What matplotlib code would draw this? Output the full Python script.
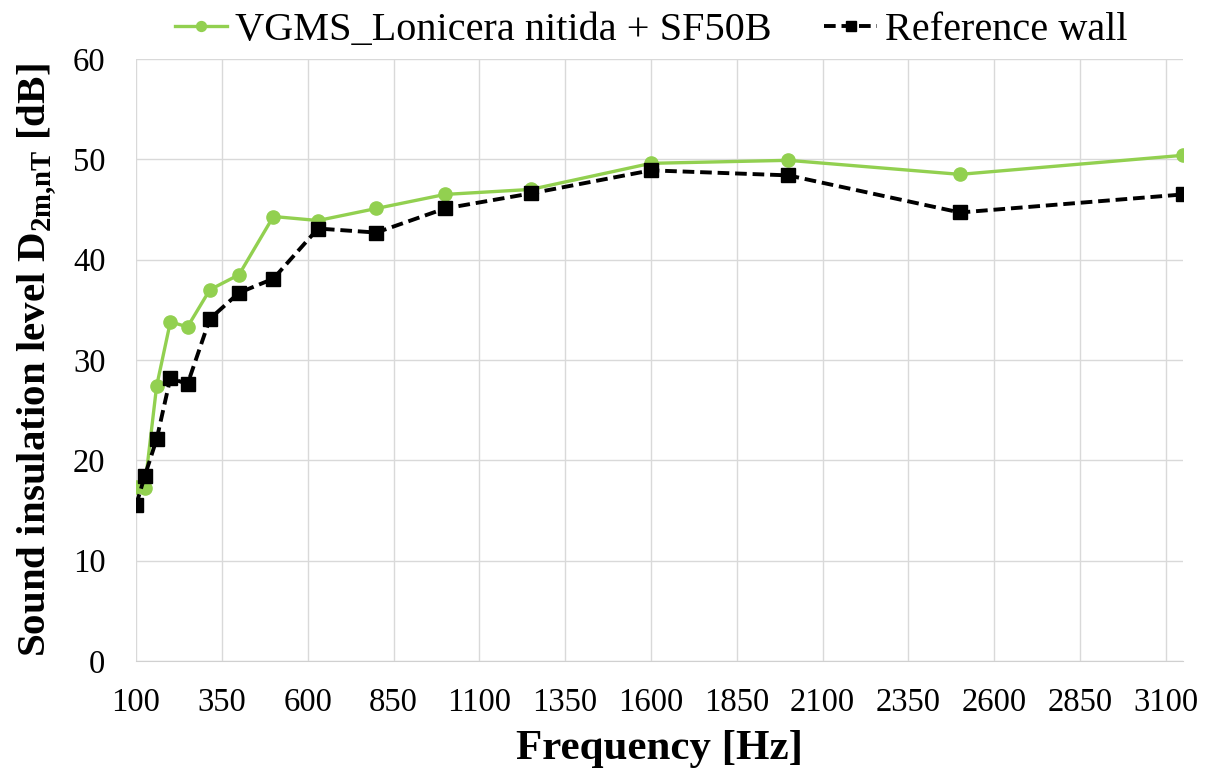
import matplotlib
matplotlib.use("Agg")
import matplotlib.pyplot as plt

plt.rcParams['font.family'] = ['Liberation Serif', 'DejaVu Serif']
plt.rcParams['mathtext.fontset'] = 'custom'
plt.rcParams['mathtext.rm'] = 'Liberation Serif'
plt.rcParams['mathtext.bf'] = 'Liberation Serif:bold'

# 1/3 octave band centre frequencies [Hz]
freqs = [100, 125, 160, 200, 250, 315, 400, 500, 630, 800, 1000, 1250, 1600, 2000, 2500, 3150]
vgms = [17.3, 17.2, 27.4, 33.8, 33.3, 37.0, 38.5, 44.3, 43.9, 45.1, 46.5, 47.0, 49.6, 49.9, 48.5, 50.4]
reference = [15.5, 18.4, 22.1, 28.2, 27.6, 34.1, 36.7, 38.1, 43.1, 42.7, 45.1, 46.6, 48.9, 48.4, 44.7, 46.5]

xticks = list(range(100, 3101, 250))
yticks = list(range(0, 61, 10))

fig = plt.figure(figsize=(12.06, 7.72), dpi=100)
ax = fig.add_axes([0.1128, 0.1438, 0.8682, 0.7798])

ax.plot(freqs, vgms, color='#92d050', lw=2.4, marker='o', markersize=9.5,
        label='VGMS_Lonicera nitida + SF50B', zorder=3)
ax.plot(freqs, reference, color='black', lw=2.8, ls=(0, (3, 1.5)), marker='s', markersize=10,
        label='Reference wall', zorder=4)

ax.set_xlim(100, 3150)
ax.set_ylim(0, 60)
ax.set_xticks(xticks)
ax.set_yticks(yticks)
ax.tick_params(length=0, labelsize=23.5)
ax.tick_params(axis='y', pad=22)
ax.tick_params(axis='x', pad=19)

ax.grid(True, color='#d9d9d9', lw=1)
ax.set_axisbelow(True)
for s in ['top', 'right', 'left']:
    ax.spines[s].set_visible(False)
ax.spines['bottom'].set_color('#d0d0d0')

ax.set_xlabel('Frequency [Hz]', fontsize=31, fontweight='bold', labelpad=9)
ax.set_ylabel(r'Sound insulation level D$_{\mathbf{2m{,}nT}}$ [dB]', fontsize=29.5,
              fontweight='bold', labelpad=10)

ax.legend(loc='lower center', bbox_to_anchor=(0.492, 0.99), ncol=2, frameon=False,
          fontsize=29, handlelength=1.3, handletextpad=0.2, columnspacing=1.3,
          markerscale=0.75, borderaxespad=0)

fig.savefig('out.png', dpi=100)
